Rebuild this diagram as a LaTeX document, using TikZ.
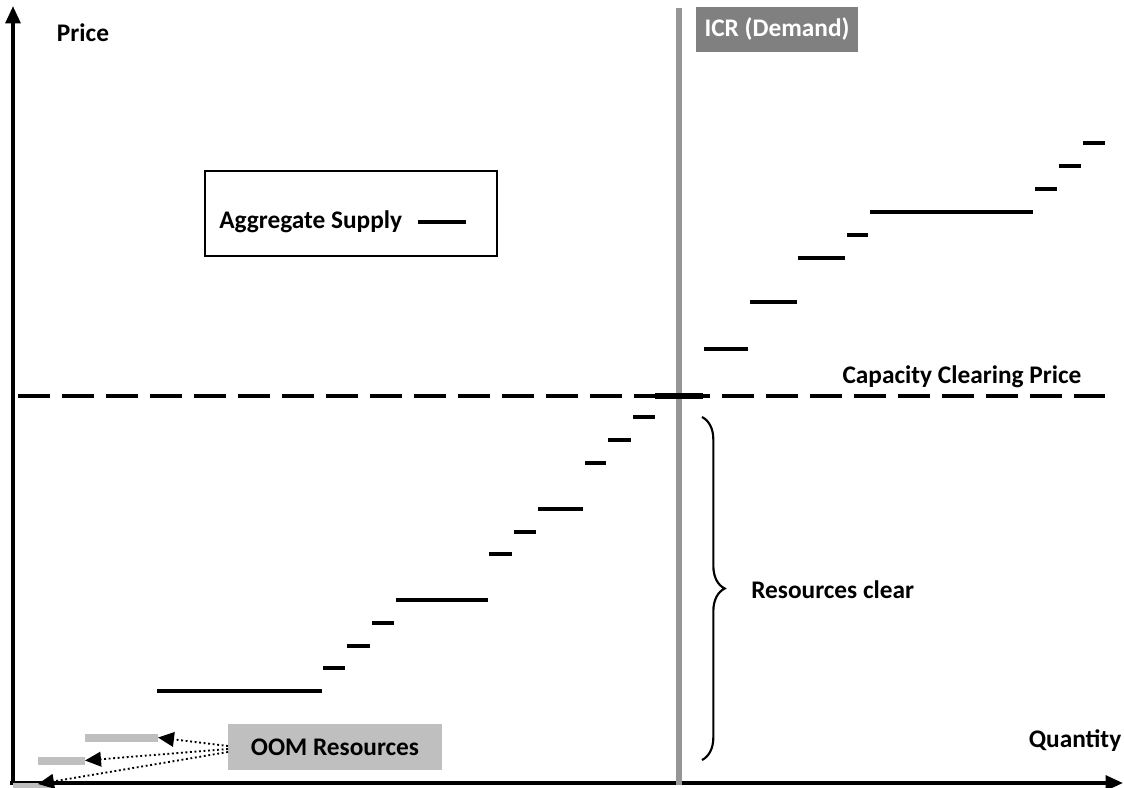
\documentclass[tikz,border=0pt]{standalone}
\usepackage{fontspec}
\setmainfont{Carlito}
\usetikzlibrary{arrows.meta,decorations.pathreplacing}
\definecolor{icrgray}{RGB}{150,150,150}
\definecolor{icrbox}{RGB}{128,128,128}
\definecolor{oomgray}{RGB}{191,191,191}
\tikzset{
  lbl/.style={font=\bfseries\fontsize{19}{22}\selectfont, inner sep=0pt},
  axisline/.style={line width=2.8pt, -{Triangle[length=13pt,width=11pt]}},
  stepseg/.style={line width=2.7pt},
  oombar/.style={line width=6pt, oomgray},
  oomarrow/.style={dotted, line width=1.4pt, -{Triangle[length=12pt,width=11pt]}},
}
\begin{document}
\begin{tikzpicture}[x=0.75pt,y=-0.75pt]
\useasboundingbox (0,0) rectangle (1124,788);
% axes
\coordinate (origin) at (13,785);
\coordinate (ytop) at (13,6);
\coordinate (xleft) at (10,783);
\coordinate (xright) at (1123,783);
\draw[axisline] (origin) -- (ytop);
\draw[axisline] (xleft) -- (xright);
\node[lbl] (price) at (83,33) {Price};
\node[lbl] (qty) at (1075,741) {Quantity};
% ICR line
\coordinate (icrtop) at (679,8);
\coordinate (icrbot) at (679,785);
\draw[icrgray, line width=4pt] (icrtop) -- (icrbot);
\node[lbl, fill=icrbox, text=white, minimum width=162*0.75pt, minimum height=45*0.75pt] (icr) at (777,29.5) {ICR (Demand)};
% clearing price line
\coordinate (cpl) at (18,396);
\coordinate (cpr) at (1105,396);
\draw[line width=2.4pt, dash pattern=on 24pt off 9pt] (cpl) -- (cpr);
\node[lbl] (ccp) at (962,377) {Capacity Clearing Price};
% supply steps
\foreach \a/\b/\y in {157/322/691, 323/345/668, 347/370/646, 372/394/623, 396/488/600,
  489/512/554, 514/536/532, 538/583/509, 585/606/463, 608/631/440, 633/655/417,
  704/748/349, 750/797/302, 798/845/258, 847/868/235, 870/1033/212,
  1035/1057/189, 1059/1081/166, 1083/1105/143}
  \draw[stepseg] (\a,\y) -- (\b,\y);
\draw[line width=4.2pt] (655,396) -- (703,396);
% legend
\node[draw, line width=1pt, minimum width=292*0.75pt, minimum height=85*0.75pt, inner sep=0pt] (legend) at (351,213.5) {};
\node[lbl, anchor=west] (aggtext) at (219,222) {Aggregate Supply};
\draw[line width=3.3pt] (418,222) -- (466,222);
% brace
\coordinate (bt) at (702,417);
\coordinate (bb) at (702,760);
\draw[line width=1.6pt, decorate, decoration={brace, amplitude=17pt}] (bt) -- (bb);
\node[lbl, anchor=west] (resclear) at (751,590) {Resources clear};
% OOM
\node[lbl, fill=oomgray, minimum width=214*0.75pt, minimum height=46*0.75pt] (oom) at (335,747) {OOM Resources};
\coordinate (b1s) at (85,737.5); \coordinate (b1e) at (158,737.5);
\coordinate (b2s) at (38,760.5); \coordinate (b2e) at (85,760.5);
\coordinate (b3s) at (13,786.5); \coordinate (b3e) at (50,786.5);
\draw[oombar] (b1s) -- (b1e);
\draw[oombar] (b2s) -- (b2e);
\draw[oombar] (b3s) -- (b3e);
\coordinate (o1) at (228,746);
\coordinate (o2) at (228,749);
\coordinate (o3) at (228,752);
\draw[oomarrow] (o1) -- (b1e);
\draw[oomarrow] (o2) -- (b2e);
\draw[oomarrow] (o3) -- (38,784);
\end{tikzpicture}
\end{document}
